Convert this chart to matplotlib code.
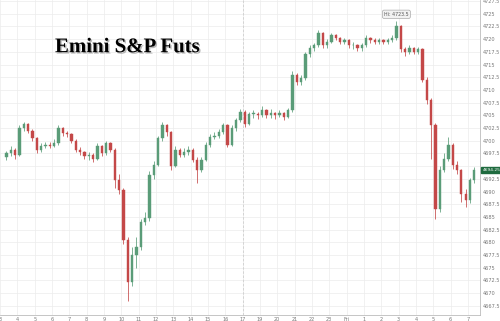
import numpy as np
import matplotlib.pyplot as plt
import matplotlib.patheffects as pe
from matplotlib.transforms import blended_transform_factory

# hour labels along the bottom (18 is skipped by the session break)
hour_labels = ['3', '4', '5', '6', '7', '8', '9', '10', '11', '12', '13', '14', '15', '16', '17',
               '19', '20', '21', '22', '23', 'Fri', '1', '2', '3', '4', '5', '6', '7']

# 15-minute bars
first_open = 4696.75
closes = [
    4697.5, 4698.25, 4697.25, 4702.5, 4703.25, 4702.0, 4700.5, 4698.25, 4699.0, 4699.25,
    4699.0, 4699.5, 4702.5, 4701.5, 4701.25, 4700.0, 4698.25, 4697.75, 4697.0, 4697.25,
    4696.5, 4699.0, 4697.5, 4699.5, 4698.25, 4692.25, 4690.25, 4680.5, 4672.25, 4677.5,
    4679.0, 4684.0, 4684.75, 4693.25, 4695.25, 4700.5, 4703.0, 4701.75, 4695.0, 4698.25,
    4697.25, 4697.75, 4698.25, 4696.25, 4694.25, 4696.25, 4699.25, 4700.75, 4701.0, 4701.75,
    4703.0, 4699.25, 4702.5, 4704.0, 4705.75, 4703.25, 4705.25, 4705.25, 4705.0, 4706.0,
    4705.0, 4705.5, 4705.0, 4705.5, 4704.75, 4706.0, 4713.0, 4711.5, 4712.25, 4717.0,
    4718.25, 4718.75, 4721.25, 4718.75, 4719.5, 4720.75, 4720.25, 4719.5, 4719.75, 4718.75,
    4718.75, 4718.25, 4718.75, 4720.25, 4719.75, 4719.5, 4719.75, 4719.5, 4719.75, 4720.25,
    4722.5, 4718.0, 4717.5, 4718.25, 4717.5, 4718.0, 4712.0, 4708.0, 4703.0, 4686.5,
    4694.25, 4696.5, 4699.25, 4695.25, 4694.25, 4689.5, 4688.25, 4692.25, 4694.25,
]
highs = [
    4698.0, 4699.0, 4698.5, 4703.0, 4703.75, 4703.5, 4702.25, 4700.75, 4699.5, 4699.75,
    4699.75, 4700.25, 4703.0, 4702.75, 4702.0, 4701.5, 4700.25, 4698.75, 4698.0, 4697.75,
    4697.5, 4699.5, 4699.25, 4700.0, 4699.75, 4698.5, 4693.5, 4690.75, 4681.0, 4679.0,
    4681.0, 4684.5, 4686.0, 4694.0, 4696.0, 4701.0, 4703.75, 4703.25, 4702.0, 4699.0,
    4698.5, 4698.5, 4699.0, 4698.5, 4696.75, 4696.75, 4699.75, 4701.25, 4701.75, 4702.25,
    4703.5, 4703.25, 4703.0, 4704.5, 4706.25, 4706.0, 4705.75, 4706.0, 4705.75, 4706.75,
    4706.25, 4706.25, 4705.75, 4706.0, 4705.75, 4706.5, 4713.75, 4713.25, 4713.0, 4717.5,
    4718.75, 4719.25, 4721.75, 4721.5, 4720.0, 4721.25, 4721.0, 4720.5, 4720.25, 4720.0,
    4719.5, 4719.0, 4719.25, 4720.75, 4720.5, 4720.25, 4720.25, 4720.0, 4720.25, 4720.75,
    4723.5, 4722.75, 4718.5, 4718.75, 4718.5, 4718.5, 4718.25, 4712.5, 4708.5, 4703.5,
    4695.0, 4697.5, 4700.75, 4699.5, 4696.0, 4694.5, 4690.5, 4692.75, 4694.75,
]
lows = [
    4696.25, 4697.0, 4696.5, 4697.0, 4702.0, 4701.5, 4700.0, 4697.5, 4697.75, 4698.5,
    4698.5, 4698.75, 4699.25, 4701.0, 4700.75, 4699.5, 4697.75, 4697.25, 4696.5, 4696.25,
    4695.75, 4696.25, 4697.0, 4697.25, 4697.75, 4690.75, 4689.5, 4679.75, 4668.5, 4671.5,
    4675.0, 4678.5, 4683.5, 4684.25, 4692.5, 4695.0, 4700.0, 4701.0, 4694.25, 4694.75,
    4696.75, 4696.75, 4697.25, 4695.75, 4691.75, 4693.75, 4696.0, 4698.75, 4700.25, 4700.5,
    4701.25, 4698.75, 4699.0, 4702.0, 4703.75, 4702.75, 4703.0, 4704.5, 4704.25, 4704.75,
    4704.5, 4704.5, 4704.25, 4704.75, 4704.0, 4704.5, 4705.75, 4711.0, 4711.0, 4712.0,
    4716.5, 4717.75, 4718.5, 4718.25, 4718.25, 4719.25, 4719.75, 4719.0, 4719.0, 4718.25,
    4718.0, 4717.75, 4717.75, 4718.5, 4719.25, 4719.0, 4719.0, 4719.0, 4719.0, 4719.5,
    4719.75, 4717.5, 4716.75, 4717.0, 4717.0, 4717.0, 4711.5, 4707.25, 4696.5, 4684.5,
    4686.0, 4693.75, 4696.0, 4694.5, 4693.5, 4688.0, 4687.0, 4687.75, 4691.75,
]
last_price = 4694.25
session_high = 4723.5

closes = np.array(closes)
opens = np.concatenate([[first_open], closes[:-1]])
highs = np.array(highs)
lows = np.array(lows)
bars_per_hour = 4
x = 0.375 + np.arange(len(closes)) / bars_per_hour

up_color = '#5a9c78'
down_color = '#c44848'
colors = np.where(closes >= opens, up_color, down_color)

fig = plt.figure(figsize=(5, 3.21), dpi=100)
ax = fig.add_axes([0, 6 / 321, 480 / 500, 315 / 321])

# wicks then bodies
ax.vlines(x, lows, highs, colors=colors, linewidth=0.55, zorder=3)
body_bottom = np.minimum(opens, closes)
body_height = np.maximum(np.abs(closes - opens), 0.15)
ax.bar(x, body_height, bottom=body_bottom, width=0.13, color=colors,
       edgecolor=colors, linewidth=0.3, zorder=4)

# session break
ax.axvline(14, color='#cfcfcf', linewidth=0.6, linestyle=(0, (3, 2)), zorder=1)

ax.set_xlim(0.257, 27.7)
ax.set_ylim(4665.7, 4727.7)

yticks = np.arange(4667.5, 4727.6, 2.5)
ax.set_yticks(yticks)
# the last-price tag covers the 4695 label
ax.set_yticklabels([('' if abs(v - 4695) < 0.01 else '%g' % v) for v in yticks])
ax.yaxis.tick_right()
ax.set_xticks(range(len(hour_labels)))
ax.set_xticklabels(hour_labels)
ax.tick_params(axis='both', labelsize=3.6, colors='#777777', length=0, pad=2)
ax.tick_params(axis='x', pad=1.5)
ax.grid(True, color='#ececec', linewidth=0.5, zorder=0)
ax.set_axisbelow(True)
for side in ['top', 'left']:
    ax.spines[side].set_visible(False)
for side in ['right', 'bottom']:
    ax.spines[side].set_color('#bbbbbb')
    ax.spines[side].set_linewidth(0.6)

# high marker
hi_idx = int(np.argmax(highs))
ax.text(x[hi_idx], session_high + 0.9, 'Hi: %g' % session_high, fontsize=3.4, color='#555555',
        ha='center', va='bottom', zorder=6,
        bbox=dict(boxstyle='round,pad=0.35', facecolor='#f2f2f2', edgecolor='#aaaaaa', linewidth=0.5))

# last price tag
trans = blended_transform_factory(ax.transAxes, ax.transData)
ax.text(1.005, last_price, '%.2f' % last_price, transform=trans, fontsize=3.2, color='white',
        ha='left', va='center', clip_on=False, zorder=6,
        bbox=dict(boxstyle='square,pad=0.25', facecolor='#1f6b3f', edgecolor='#1f6b3f'))

title = fig.text(0.11, 0.853, 'Emini S&P Futs', fontsize=15, fontweight='bold',
                 family='Liberation Serif', color='black', va='center', ha='left')
title.set_path_effects([pe.withSimplePatchShadow(offset=(1, -1), shadow_rgbFace='#888888', alpha=0.6)])

fig.savefig('out.png', dpi=100)
